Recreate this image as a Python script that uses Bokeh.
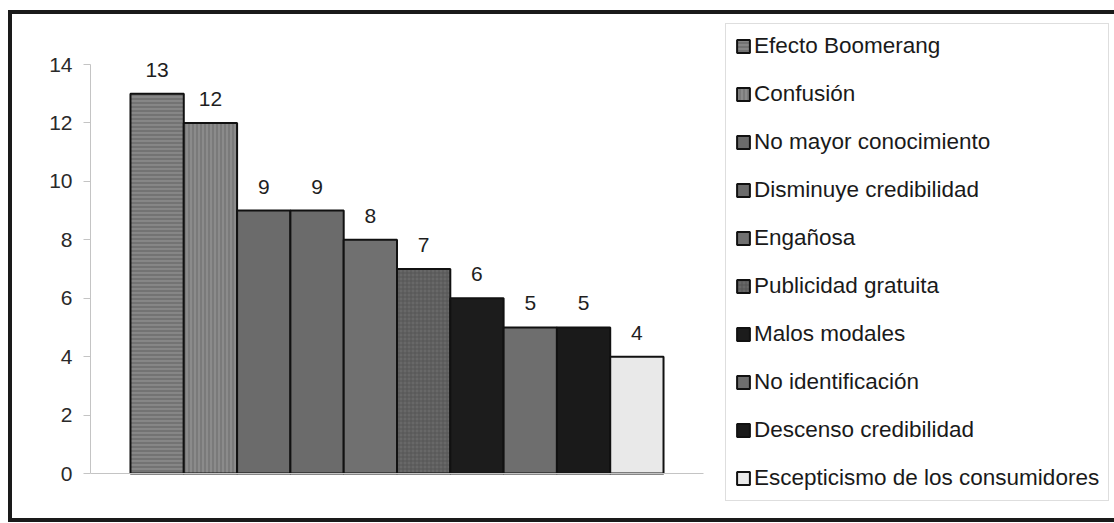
from bokeh.plotting import figure
from bokeh.models import Range1d, FixedTicker, Legend, LegendItem, ColumnDataSource, LabelSet
from bokeh.core.properties import value
from bokeh.embed import file_html
from bokeh.resources import INLINE

categories = ["Efecto Boomerang", "Confusión", "No mayor conocimiento",
              "Disminuye credibilidad", "Engañosa", "Publicidad gratuita",
              "Malos modales", "No identificación", "Descenso credibilidad",
              "Escepticismo de los consumidores"]
values = [13, 12, 9, 9, 8, 7, 6, 5, 5, 4]
fills = ["#737373", "#7a7a7a", "#6b6b6b", "#6b6b6b", "#707070",
         "#686868", "#1c1c1c", "#6e6e6e", "#1a1a1a", "#e9e9e9"]
hatches = ["horizontal_line", "vertical_line", " ", " ", " ",
           "cross", " ", " ", " ", " "]
hatch_colors = ["#9a9a9a", "#9c9c9c", "#6b6b6b", "#6b6b6b", "#707070",
                "#555555", "#1c1c1c", "#6e6e6e", "#1a1a1a", "#e9e9e9"]
y_ticks = [0, 2, 4, 6, 8, 10, 12, 14]
y_max = 14

FONT = "Liberation Sans"

# layout (pixels inside the canvas)
CW, CH = 1106, 512          # canvas size
F_LEFT, F_TOP, F_BOTTOM = 78, 6, 21   # frame margins
PLOT_W = 613                # width of the bar plot area
PLOT_TOP, PLOT_BOTTOM = 50, 459      # y of y_max and of 0 in canvas px
GAP = 0.75                  # empty space each side of bars (bar units)

frame_w = CW - F_LEFT
ppx = PLOT_W / (len(values) + 2 * GAP)
x0 = -0.5 - GAP
ppy = (PLOT_BOTTOM - PLOT_TOP) / y_max
y0 = -((CH - F_BOTTOM) - PLOT_BOTTOM) / ppy
y1 = y_max + (PLOT_TOP - F_TOP) / ppy

p = figure(width=CW, height=CH, output_backend="svg", toolbar_location=None,
           x_range=Range1d(x0, x0 + frame_w / ppx), y_range=Range1d(y0, y1),
           min_border_left=F_LEFT, min_border_right=0, min_border_top=F_TOP,
           min_border_bottom=F_BOTTOM,
           styles={"border-left": "4px solid #1a1a1a",
                   "border-top": "4px solid #1a1a1a",
                   "border-bottom": "4px solid #1a1a1a",
                   "margin-left": "8px",
                   "margin-top": "10px",
                   "overflow": "hidden"})
p.outline_line_color = None
p.xgrid.visible = False
p.ygrid.visible = False
p.background_fill_color = "white"
p.border_fill_color = "white"

# y axis
ya = p.yaxis[0]
ya.ticker = FixedTicker(ticks=y_ticks)
ya.bounds = (0, y_max)
ya.axis_line_color = "#c4c4c4"
ya.major_tick_line_color = "#c4c4c4"
ya.major_tick_out = 7
ya.major_tick_in = 0
ya.minor_tick_line_color = None
ya.major_label_standoff = 11
ya.major_label_text_font = FONT
ya.major_label_text_font_size = "21px"
ya.major_label_text_color = "#2a2a2a"

# x axis: baseline only, at y = 0
xa = p.xaxis[0]
xa.fixed_location = 0
xa.bounds = (x0, x0 + len(values) + 2 * GAP)
xa.axis_line_color = "#c4c4c4"
xa.major_tick_line_color = None
xa.minor_tick_line_color = None
xa.major_tick_out = 0
xa.major_label_standoff = 0
xa.major_label_text_font_size = "0px"
xa.major_label_text_color = None

items = []
for i, (name, v) in enumerate(zip(categories, values)):
    r = p.vbar(x=[i], top=[v], width=1.0, bottom=0,
               fill_color=fills[i], line_color="#111111", line_width=2,
               hatch_pattern=hatches[i], hatch_color=hatch_colors[i],
               hatch_scale=4, hatch_weight=1)
    items.append(LegendItem(label=name, renderers=[r]))

src = ColumnDataSource(dict(x=list(range(len(values))), y=values,
                            t=[str(v) for v in values]))
labels = LabelSet(x="x", y="y", text="t", source=src, text_align="center",
                  text_baseline="alphabetic", y_offset=17,
                  text_font=value(FONT), text_font_size=value("21px"),
                  text_color="#1e1e1e")
p.add_layout(labels)

legend = Legend(items=items, location=(635, 4))
legend.label_text_font = FONT
legend.label_text_font_size = "22.5px"
legend.label_text_color = "#1a1a1a"
legend.glyph_width = 16
legend.glyph_height = 16
legend.label_height = 22
legend.label_standoff = 3
legend.spacing = 22
legend.padding = 9
legend.margin = 0
legend.border_line_color = "#bdbdbd"
legend.border_line_width = 1
legend.background_fill_color = "white"
legend.background_fill_alpha = 1.0
p.add_layout(legend)

open("out.html", "w").write(file_html(p, INLINE))
